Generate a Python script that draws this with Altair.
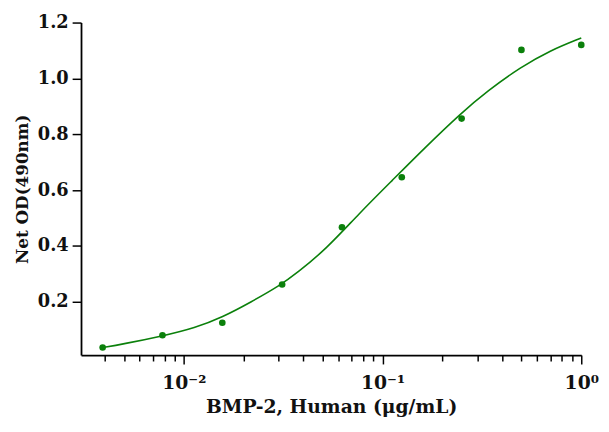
import altair as alt
import pandas as pd

# measured points
conc = [1.0, 0.5, 0.25, 0.125, 0.0625, 0.03125, 0.015625, 0.0078125, 0.00390625]
od = [1.120, 1.102, 0.856, 0.646, 0.467, 0.262, 0.125, 0.080, 0.036]

# fitted curve
curve_x = [0.0039, 0.0049, 0.00789, 0.01135, 0.01568, 0.02167, 0.03055, 0.0370,
           0.0521, 0.0762, 0.1117, 0.1635, 0.2488, 0.3373, 0.4943,
           0.6966, 1.0]
curve_y = [0.036, 0.048, 0.078, 0.106, 0.145, 0.198, 0.259, 0.302,
           0.389, 0.516, 0.634, 0.752, 0.876, 0.955, 1.040,
           1.100, 1.145]

x_ticks = [0.004, 0.005, 0.006, 0.007, 0.008, 0.009, 0.01,
           0.02, 0.03, 0.04, 0.05, 0.06, 0.07, 0.08, 0.09, 0.1,
           0.2, 0.3, 0.4, 0.5, 0.6, 0.7, 0.8, 0.9, 1.0]
y_ticks = [0.2, 0.4, 0.6, 0.8, 1.0, 1.2]

pts = pd.DataFrame({"x": conc, "y": od})
crv = pd.DataFrame({"x": curve_x, "y": curve_y})

GREEN = "#0b800b"
FONT = "DejaVu Serif"

xscale = alt.Scale(type="log", domain=[0.00304, 1.0], nice=False)
yscale = alt.Scale(domain=[0.009, 1.2], nice=False)

major = "datum.value == 0.01 || datum.value == 0.1 || datum.value == 1"
xaxis = alt.Axis(
    values=x_ticks,
    labelExpr="datum.value == 0.01 ? '10⁻²' : datum.value == 0.1 ? '10⁻¹' : datum.value == 1 ? '10⁰' : ''",
    tickSize={"condition": {"test": major, "value": 9}, "value": 6},
    title="BMP-2, Human (μg/mL)",
    grid=False,
    labelFlush=False,
    labelOverlap=False,
    labelFontSize=19,
    titleFontSize=19,
    labelPadding=10,
    titlePadding=5,
)
yaxis = alt.Axis(values=y_ticks, format=".1f", title="Net OD(490nm)", grid=False,
                 tickSize=9, labelFontSize=18, titleFontSize=17, labelPadding=4,
                 titlePadding=6, labelFlush=False)

line = alt.Chart(crv).mark_line(color=GREEN, strokeWidth=1.6, interpolate="basis").encode(
    x=alt.X("x:Q", scale=xscale, axis=xaxis),
    y=alt.Y("y:Q", scale=yscale, axis=yaxis),
)
dots = alt.Chart(pts).mark_circle(color=GREEN, size=45, opacity=1).encode(
    x=alt.X("x:Q", scale=xscale),
    y=alt.Y("y:Q", scale=yscale),
)

chart = (
    alt.layer(line, dots)
    .properties(width=507, height=337,
                autosize=alt.AutoSizeParams(type="none"),
                padding={"left": 74, "top": 12, "right": 20, "bottom": 60})
    .configure_view(stroke=None)
    .configure_axis(
        domainColor="black", domainWidth=1.8, tickColor="black", tickWidth=1.5,
        labelFont=FONT, labelFontWeight="bold", labelColor="#111",
        titleFont=FONT, titleFontWeight="bold", titleColor="#111",
    )
)

chart.save("out.html", embed_options={"renderer": "svg", "actions": False})
